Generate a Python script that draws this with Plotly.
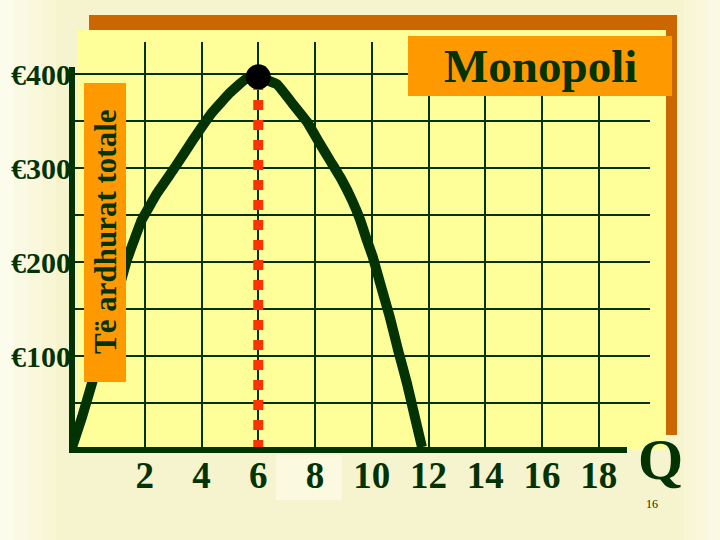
import plotly.graph_objects as go

# ---- data ----
q_vals = [-0.56, -0.21, 0.14, 0.78, 1.37, 1.90, 2.43, 3.07, 3.70, 4.37, 5.00, 5.53, 6.00,
          6.66, 7.22, 7.72, 8.11, 8.53, 8.95, 9.30, 9.59, 9.83, 10.04, 10.29, 10.64,
          10.93, 11.24, 11.52, 11.77]
tr_vals = [3, 35, 71, 138, 202, 245, 273, 301, 330, 359, 380, 394, 397,
           389, 368, 349, 329, 308, 287, 266, 245, 223, 205, 178, 141,
           106, 71, 35, 3]
peak_q = [6]
peak_tr = [397]
guide_q = [6, 6]
guide_tr = [0, 390]
x_ticks = [2, 4, 6, 8, 10, 12, 14, 16, 18]
x_labels = ["2", "4", "6", "8", "10", "12", "14", "16", "18"]
y_ticks = [100, 200, 300, 400]
y_labels = ["€100", "€200", "€300", "€400"]
y_minor = [50, 150, 250, 350]
title_text = "Monopoli"
y_title = "Të ardhurat totale"
x_title = "Q"
page_no = "16"

# ---- layout geometry (pixels) ----
W, H = 720, 540
L, R, T, B = 72, 70, 42, 90
PW, PH = W - L - R, H - T - B


def px_x(px):
    return (px - L) / PW


def px_y(py):
    return (H - B - py) / PH


DARK = "#033203"
ORANGE = "#FF9900"
BROWN = "#CC6600"
PANEL = "#FFFF99"
BG = "#F6F4CE"
FONT = "Liberation Serif"

fig = go.Figure()
fig.add_trace(go.Scatter(x=q_vals, y=tr_vals, mode="lines", cliponaxis=False,
                         line=dict(color=DARK, width=10, shape="spline", smoothing=0.25),
                         hoverinfo="skip"))
fig.add_trace(go.Scatter(x=guide_q, y=guide_tr, mode="lines",
                         line=dict(color="#FF3300", width=10, dash="10px,10px"),
                         hoverinfo="skip"))
fig.add_trace(go.Scatter(x=peak_q, y=peak_tr, mode="markers",
                         marker=dict(color="black", size=25), hoverinfo="skip"))

shapes = []
# soft background lightening at left / right edges
for i, c in enumerate(["#FCFCEC", "#FAFAE4", "#F9F8DC", "#F8F6D5"]):
    shapes.append(dict(type="rect", xref="paper", yref="paper", layer="below",
                       x0=px_x(i * 14), x1=px_x(i * 14 + 14), y0=px_y(540), y1=px_y(0),
                       fillcolor=c, line=dict(width=0)))
for i, c in enumerate(["#F8F6D5", "#F9F8DC", "#FAFAE4"]):
    shapes.append(dict(type="rect", xref="paper", yref="paper", layer="below",
                       x0=px_x(684 + i * 12), x1=px_x(696 + i * 12), y0=px_y(540), y1=px_y(0),
                       fillcolor=c, line=dict(width=0)))
# brown shadow and yellow panel
shapes.append(dict(type="rect", xref="paper", yref="paper", layer="below",
                   x0=px_x(89), x1=px_x(677), y0=px_y(435), y1=px_y(15),
                   fillcolor=BROWN, line=dict(width=0)))
shapes.append(dict(type="rect", xref="paper", yref="paper", layer="below",
                   x0=px_x(78), x1=px_x(666), y0=px_y(450), y1=px_y(30),
                   fillcolor=PANEL, line=dict(width=0)))
# light patch behind the "8" label
shapes.append(dict(type="rect", xref="paper", yref="paper", layer="below",
                   x0=px_x(276), x1=px_x(342), y0=px_y(500), y1=px_y(455),
                   fillcolor="#FBFAE0", line=dict(width=0)))
# axis lines
shapes.append(dict(type="line", xref="paper", yref="paper", layer="above",
                   x0=px_x(72), x1=px_x(72), y0=px_y(453), y1=px_y(67),
                   line=dict(color=DARK, width=6)))
shapes.append(dict(type="line", xref="paper", yref="paper", layer="above",
                   x0=px_x(69), x1=px_x(627), y0=px_y(450), y1=px_y(450),
                   line=dict(color=DARK, width=6)))
# orange label boxes
shapes.append(dict(type="rect", xref="paper", yref="paper", layer="above",
                   x0=px_x(84), x1=px_x(126), y0=px_y(382), y1=px_y(83),
                   fillcolor=ORANGE, line=dict(width=0)))
shapes.append(dict(type="rect", xref="paper", yref="paper", layer="above",
                   x0=px_x(408), x1=px_x(672), y0=px_y(96), y1=px_y(36),
                   fillcolor=ORANGE, line=dict(width=0)))

annotations = [
    dict(text=title_text, xref="paper", yref="paper", x=px_x(540), y=px_y(66),
         xanchor="center", yanchor="middle", showarrow=False,
         font=dict(family=FONT, size=47, color=DARK, weight="bold")),
    dict(text=y_title, xref="paper", yref="paper", x=px_x(105), y=px_y(232),
         xanchor="center", yanchor="middle", showarrow=False, textangle=-90,
         font=dict(family=FONT, size=31, color=DARK, weight="bold")),
    dict(text=x_title, xref="paper", yref="paper", x=px_x(660), y=px_y(460),
         xanchor="center", yanchor="middle", showarrow=False,
         font=dict(family=FONT, size=58, color=DARK, weight="bold")),
    dict(text=page_no, xref="paper", yref="paper", x=px_x(652), y=px_y(504),
         xanchor="center", yanchor="middle", showarrow=False,
         font=dict(family=FONT, size=12, color=DARK)),
]

xr0 = (72 - 88) / 28.375
yr0 = 0
fig.update_layout(
    width=W, height=H,
    margin=dict(l=L, r=R, t=T, b=B, pad=0),
    paper_bgcolor=BG, plot_bgcolor="rgba(0,0,0,0)",
    showlegend=False,
    shapes=shapes, annotations=annotations,
    xaxis=dict(range=[xr0, xr0 + PW / 28.375], tickvals=x_ticks, ticktext=x_labels,
               showgrid=True, gridcolor=DARK, gridwidth=1.6, zeroline=False,
               showline=False, ticks="", ticklabelstandoff=0,
               tickfont=dict(family=FONT, size=37, color=DARK, weight="bold")),
    yaxis=dict(range=[yr0, yr0 + PH / 0.94], tickvals=y_ticks, ticktext=y_labels,
               showgrid=True, gridcolor=DARK, gridwidth=1.6, zeroline=False,
               showline=False, ticks="", ticklabelstandoff=0,
               minor=dict(tickvals=y_minor, showgrid=True, gridcolor=DARK, gridwidth=1.6),
               tickfont=dict(family=FONT, size=30, color=DARK, weight="bold")),
)

fig.write_html("out.html", config={"displayModeBar": False},
               post_script="document.body.style.margin='0';document.body.style.overflow='hidden';")
